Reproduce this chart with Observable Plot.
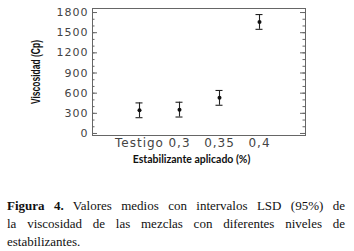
<!DOCTYPE html>
<html>
<head>
<meta charset="utf-8">
<script src="https://cdn.jsdelivr.net/npm/d3@7"></script>
<script src="https://cdn.jsdelivr.net/npm/@observablehq/plot@0.6"></script>
<style>
  html, body { margin: 0; padding: 0; background: #fff; }
  #chart svg { display: block; overflow: visible; }
  #chart g[aria-label="y-axis tick label"] text {
    font-family: "DejaVu Sans", sans-serif; font-size: 11px; letter-spacing: 1px; fill: #444;
  }
  #chart g[aria-label="x-axis tick label"] text {
    font-family: "DejaVu Sans", sans-serif; font-size: 12px; letter-spacing: 1px; fill: #444;
  }
  #cap {
    margin: 25px 0 0 7px; width: 338px;
    font-family: "Liberation Serif", "Times New Roman", serif; font-size: 13px; line-height: 18px; color: #111;
  }
  #cap .l { display: block; text-align: justify; text-align-last: justify; }
  #cap .last { display: block; text-align: left; }
</style>
</head>
<body>
<div id="chart"></div>
<div id="cap"><span class="l"><b>Figura 4.</b> Valores medios con intervalos LSD (95%) de</span><span class="l">la viscosidad de las mezclas con diferentes niveles de</span><span class="last">estabilizantes.</span></div>
<script>
const categories = ["Testigo", "0,3", "0,35", "0,4"];
const means = [345, 355, 530, 1660];
const lower = [235, 245, 420, 1550];
const upper = [455, 465, 640, 1770];
const yTicks = [0, 300, 600, 900, 1200, 1500, 1800];
const yMinorTicks = [0, 100, 200, 300, 400, 500, 600, 700, 800, 900, 1000, 1100, 1200, 1300, 1400, 1500, 1600, 1700, 1800];
const xTitle = "Estabilizante aplicado (%)";
const yTitle = "Viscosidad (Cp)";

const data = categories.map((c, i) => ({cat: c, mean: means[i], lo: lower[i], hi: upper[i]}));

const W = 354, H = 172, mL = 92, mR = 49, mT = 8, mB = 37;
const frameW = W - mL - mR;

const svg = Plot.plot({
  width: W, height: H,
  marginLeft: mL, marginRight: mR, marginTop: mT, marginBottom: mB,
  style: {fontFamily: "DejaVu Sans, sans-serif", color: "#444", background: "#fff"},
  x: {type: "band", domain: categories, range: [102.5, 295.5], padding: 0.825, align: 0.5, round: false,
      tickSize: 0, tickPadding: 3, label: null},
  y: {domain: [-30, 1860], ticks: yTicks, tickSize: 0, tickPadding: 4, tickFormat: d => String(d), label: null},
  marks: [
    Plot.frame({stroke: "#666", strokeWidth: 1}),
    Plot.ruleY(yMinorTicks, {y: d => d, insetRight: frameW - 2.5, stroke: "#666"}),
    Plot.ruleY(yTicks, {y: d => d, insetRight: frameW - 5, stroke: "#666"}),
    Plot.ruleY(yMinorTicks, {y: d => d, insetLeft: frameW - 2.5, stroke: "#666"}),
    Plot.ruleY(yTicks, {y: d => d, insetLeft: frameW - 5, stroke: "#666"}),
    Plot.ruleX(data, {x: "cat", y1: "lo", y2: "hi", stroke: "#222", strokeWidth: 1.1}),
    Plot.tickY(data, {x: "cat", y: "lo", stroke: "#222", strokeWidth: 1.1}),
    Plot.tickY(data, {x: "cat", y: "hi", stroke: "#222", strokeWidth: 1.1}),
    Plot.dot(data, {x: "cat", y: "mean", r: 2, fill: "#111", stroke: "none"}),
    Plot.text([xTitle], {text: d => d, frameAnchor: "bottom", dy: 27, dx: -7.5,
      fontFamily: "Lato, 'Open Sans', sans-serif", fontWeight: "bold", fontSize: 10.5, fill: "#111"}),
    Plot.text([yTitle], {text: d => d, frameAnchor: "left", dx: -57, rotate: -90,
      fontFamily: "'Liberation Sans Narrow', 'Liberation Sans', sans-serif", fontWeight: "bold", fontSize: 13, fill: "#111"})
  ]
});

d3.select(svg).selectAll("text")
  .filter(function() { return this.textContent === yTitle; })
  .attr("text-anchor", "start").attr("x", -32)
  .attr("textLength", 64).attr("lengthAdjust", "spacingAndGlyphs");

document.getElementById("chart").appendChild(svg);
</script>
</body>
</html>
